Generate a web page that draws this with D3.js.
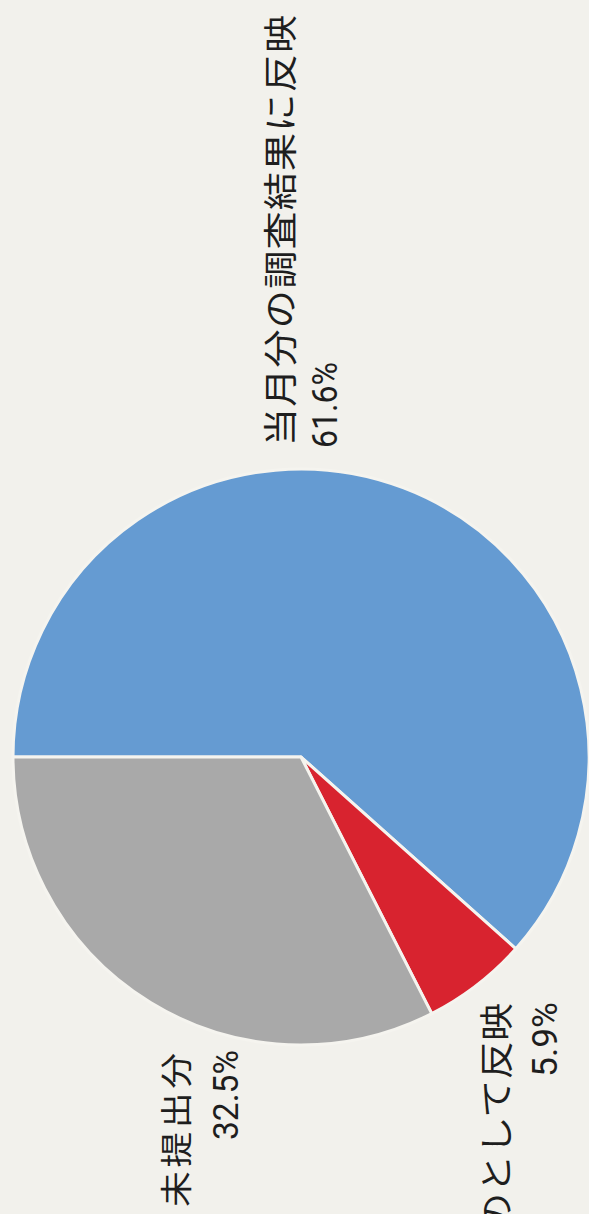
<!DOCTYPE html>
<html lang="ja">
<head>
<meta charset="utf-8">
<script src="https://cdn.jsdelivr.net/npm/d3@7"></script>
<style>
  html, body { margin: 0; padding: 0; background: #f2f1ec; }
  svg { display: block; }
</style>
</head>
<body>
<svg id="chart" width="589" height="1214"></svg>
<script>
// ---- data ----
const categories = ["当月分の調査結果に反映", "のとして反映", "未提出分"];
const values = [61.6, 5.9, 32.5];
const percentLabels = ["61.6%", "5.9%", "32.5%"];
const colors = ["#659bd2", "#d8232f", "#a9a9a9"];

// ---- layout ----
const W = 589, H = 1214;
const cx = 301, cy = 757, R = 288;

const svg = d3.select("#chart");
svg.append("rect").attr("width", W).attr("height", H).attr("fill", "#f2f1ec");

const pie = d3.pie().sort(null)
  .startAngle(-Math.PI / 2)
  .endAngle(3 * Math.PI / 2)
  .value(d => d);
const arc = d3.arc().innerRadius(0).outerRadius(R);

const g = svg.append("g").attr("transform", `translate(${cx},${cy})`);
g.selectAll("path")
  .data(pie(values))
  .join("path")
  .attr("d", arc)
  .attr("fill", (d, i) => colors[i])
  .attr("stroke", "#f5f4ef")
  .attr("stroke-width", 3)
  .attr("stroke-linejoin", "round");

// ---- labels (rotated -90°) ----
const labelFont = "'Noto Sans CJK JP', 'Noto Sans', sans-serif";
const numFont = "'Liberation Sans Narrow', 'Roboto', 'Liberation Sans', sans-serif";
const stretch = 1.12;

const labelLayout = [
  { name: { x: 278, y: 446, anchor: "start", len: 431, size: 34 },
    pct:  { x: 337, y: 448, anchor: "start", len: 86, size: 35 } },
  { name: { x: 494, y: 1003, anchor: "end", len: 228, size: 34 },
    pct:  { x: 557, y: 1002, anchor: "end", len: 75, size: 35 } },
  { name: { x: 174, y: 1053, anchor: "end", len: 154, size: 32 },
    pct:  { x: 238, y: 1050, anchor: "end", len: 90, size: 35 } }
];

categories.forEach((c, i) => {
  const L = labelLayout[i];
  svg.append("text")
    .attr("transform", `translate(${L.name.x},${L.name.y}) rotate(-90) scale(${stretch},1)`)
    .attr("text-anchor", L.name.anchor)
    .attr("dominant-baseline", "central")
    .attr("font-family", labelFont)
    .attr("font-size", L.name.size)
    .attr("fill", "#1e1e1e")
    .attr("textLength", L.name.len / stretch)
    .attr("lengthAdjust", "spacing")
    .text(c);
  svg.append("text")
    .attr("transform", `translate(${L.pct.x},${L.pct.y}) rotate(-90)`)
    .attr("text-anchor", L.pct.anchor)
    .attr("font-family", numFont)
    .attr("font-size", L.pct.size)
    .attr("fill", "#1e1e1e")
    .attr("textLength", L.pct.len)
    .attr("lengthAdjust", "spacingAndGlyphs")
    .text(percentLabels[i]);
});
</script>
</body>
</html>
